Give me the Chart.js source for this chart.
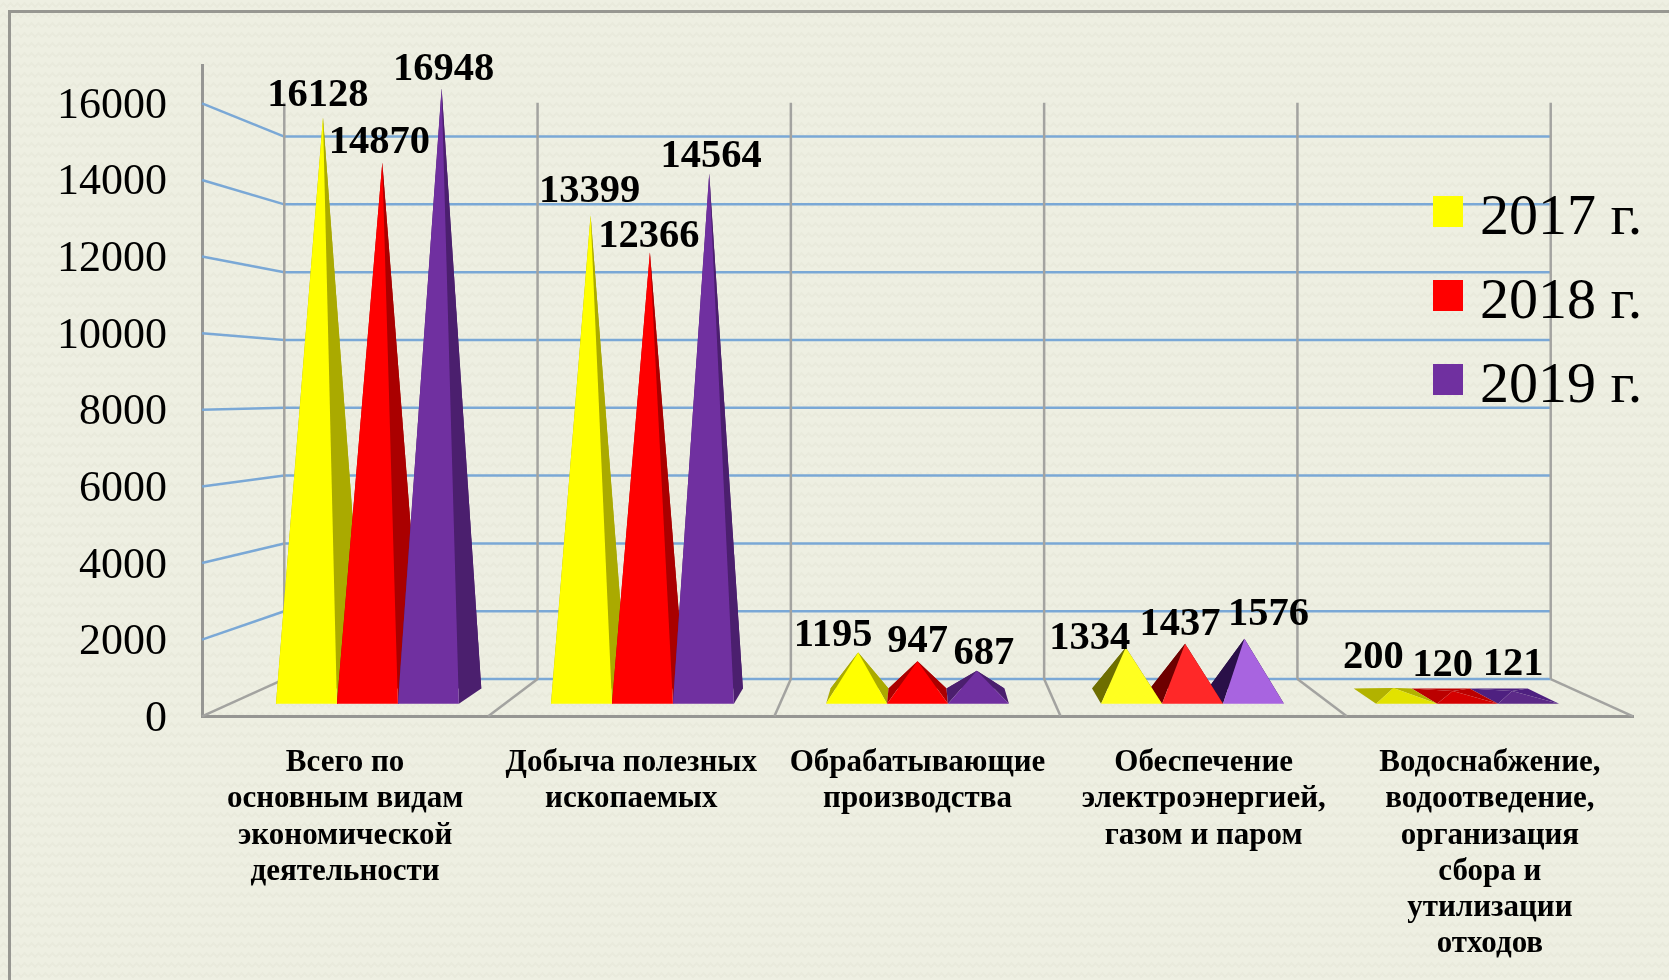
<!DOCTYPE html>
<html lang="ru">
<head>
<meta charset="utf-8">
<title>Chart</title>
<script src="https://cdn.jsdelivr.net/npm/chart.js@4/dist/chart.umd.min.js"></script>
<style>
    html, body { margin: 0; padding: 0; background: #edeee0; }
    #wrap {
        position: relative; width: 1669px; height: 980px; overflow: hidden;
        background-color: #eeefe2;
        background-image: url("data:image/svg+xml,%3Csvg xmlns='http://www.w3.org/2000/svg' width='14' height='10'%3E%3Cpath d='M0 7 L3.5 3 L7 7 L10.5 3 L14 7' fill='none' stroke='%23e9eadc' stroke-width='2'/%3E%3C/svg%3E");
    }
    #frame { position: absolute; left: 8px; top: 10px; width: 1700px; height: 1000px; border: 3px solid #979791; }
    canvas { position: absolute; left: 0; top: 0; }
</style>
</head>
<body>
<div id="wrap">
    <div id="frame"></div>
    <canvas id="chart" width="1669" height="980"></canvas>
</div>
<script>
const categories = [
    ['Всего по', 'основным видам', 'экономической', 'деятельности'],
    ['Добыча полезных', 'ископаемых'],
    ['Обрабатывающие', 'производства'],
    ['Обеспечение', 'электроэнергией,', 'газом и паром'],
    ['Водоснабжение,', 'водоотведение,', 'организация', 'сбора и', 'утилизации', 'отходов']
];
const seriesNames = ['2017 г.', '2018 г.', '2019 г.'];
const values2017 = [16128, 13399, 1195, 1334, 200];
const values2018 = [14870, 12366, 947, 1437, 120];
const values2019 = [16948, 14564, 687, 1576, 121];
const yTickValues = [0, 2000, 4000, 6000, 8000, 10000, 12000, 14000, 16000];

// nudge of each value label from its apex [dx, dy], one row per series
const labelNudge2017 = [[-5, -22], [-1, -24], [-25, -17], [-36, -9], [-20, -31]];
const labelNudge2018 = [[-3, -20], [-1, -16], [0, -20], [-5, -19], [-10, -25]];
const labelNudge2019 = [[2, -19], [2, -17], [7, -17], [24, -24], [1, -26]];

const seriesColors = ['#ffff00', '#ff0000', '#7030a0'];
const sideColors = ['#aaaa00', '#aa0000', '#4b1f6e'];
const litColors = ['#ffff20', '#ff2828', '#a864e0'];
const shadeColors = ['#6e6e00', '#6e0000', '#2a1048'];
const flatColors = ['#e2e200', '#d40000', '#5c2a88'];
const flatBackColors = ['#b2b200', '#bb0000', '#4e2080'];

const GRID_BLUE = '#7aa8d6';
const WALL_GRAY = '#a3a3a0';
const SERIF = '"Liberation Serif", serif';

// perspective of the fake 3D box
const VANISH_Y = 392.3;
const WALL_DEPTH = 0.885;
const BASE_FRONT = 0.961;
const BASE_BACK = 0.914;
const BASE_MID = 0.935;


function project(chart, x, y, depth) {
    const vx = (chart.chartArea.left + chart.chartArea.right) / 2;
    return [vx + depth * (x - vx), VANISH_Y + depth * (y - VANISH_Y)];
}

function line(ctx, a, b, color, width) {
    ctx.strokeStyle = color;
    ctx.lineWidth = width;
    ctx.beginPath();
    ctx.moveTo(a[0], a[1]);
    ctx.lineTo(b[0], b[1]);
    ctx.stroke();
}

function face(ctx, points, color) {
    ctx.fillStyle = color;
    ctx.beginPath();
    points.forEach((p, i) => i ? ctx.lineTo(p[0], p[1]) : ctx.moveTo(p[0], p[1]));
    ctx.closePath();
    ctx.fill();
}


/* ==============================
   BOX WALLS
================================= */

const wallPlugin = {
    id: 'walls',
    beforeDatasetsDraw(chart) {
        const ctx = chart.ctx;
        const yScale = chart.scales.y;
        const area = chart.chartArea;

        ctx.save();

        // blue lines along side and back wall
        yScale.ticks.forEach(tick => {
            const y = yScale.getPixelForValue(tick.value);
            const backLeft = project(chart, area.left, y, WALL_DEPTH);
            const backRight = project(chart, area.right, y, WALL_DEPTH);
            if (tick.value > 0) line(ctx, [area.left, y], backLeft, GRID_BLUE, 2.5);
            line(ctx, backLeft, backRight, GRID_BLUE, 2.5);
        });

        // gray separators on floor and back wall
        const step = (area.right - area.left) / categories.length;
        for (let i = 0; i <= categories.length; i++) {
            const x = area.left + i * step;
            const floor = project(chart, x, area.bottom, WALL_DEPTH);
            const top = project(chart, x, area.top, WALL_DEPTH);
            line(ctx, [x, area.bottom], floor, WALL_GRAY, 2.5);
            line(ctx, floor, top, WALL_GRAY, 2.5);
        }
        ctx.restore();
    }
};


/* ==============================
   PYRAMIDS
================================= */

function pyramidStyle(series, group) {
    if (group === 3) return { front: litColors[series], side: shadeColors[series], back: shadeColors[series] };
    if (group === 4) return { front: flatColors[series], side: flatBackColors[series], back: flatBackColors[series] };
    return { front: seriesColors[series], side: sideColors[series], back: sideColors[series] };
}

function drawPyramid(chart, series, group) {
    const bar = chart.getDatasetMeta(series).data[group];
    const half = bar.width / 2;
    const base = bar.base;
    const style = pyramidStyle(series, group);

    const fl = project(chart, bar.x - half, base, BASE_FRONT);
    const fr = project(chart, bar.x + half, base, BASE_FRONT);
    const bl = project(chart, bar.x - half, base, BASE_BACK);
    const br = project(chart, bar.x + half, base, BASE_BACK);
    const apex = project(chart, bar.x, bar.y, BASE_MID);

    face(chart.ctx, [bl, br, apex], style.back);
    face(chart.ctx, [fl, bl, apex], style.side);
    face(chart.ctx, [fr, br, apex], style.side);
    face(chart.ctx, [fl, fr, apex], style.front);
}

const pyramidPlugin = {
    id: 'pyramids',
    afterDatasetsDraw(chart) {
        const ctx = chart.ctx;
        const center = (chart.chartArea.left + chart.chartArea.right) / 2;
        const nudges = [labelNudge2017, labelNudge2018, labelNudge2019];

        ctx.save();
        categories.forEach((_, group) => {
            // nearer to the middle goes last, so its front face stays on top
            const bar = chart.getDatasetMeta(1).data[group];
            const order = bar.x > center + 10 ? [2, 1, 0] : [0, 1, 2];
            order.forEach(series => drawPyramid(chart, series, group));
        });

        ctx.fillStyle = '#000';
        ctx.font = 'bold 40.5px ' + SERIF;
        ctx.textAlign = 'center';
        ctx.textBaseline = 'middle';
        chart.data.datasets.forEach((dataset, series) => {
            chart.getDatasetMeta(series).data.forEach((bar, group) => {
                const apex = project(chart, bar.x, bar.y, BASE_MID);
                const nudge = nudges[series][group];
                ctx.fillText(String(dataset.data[group]), apex[0] + nudge[0], apex[1] + nudge[1]);
            });
        });
        ctx.restore();
    }
};


/* ==============================
   LEGEND
================================= */

const legendPlugin = {
    id: 'sideLegend',
    afterDraw(chart) {
        const ctx = chart.ctx;
        ctx.save();
        ctx.font = '58px ' + SERIF;
        ctx.textBaseline = 'alphabetic';
        ctx.textAlign = 'left';
        chart.data.datasets.forEach((dataset, i) => {
            const y = 196 + i * 84;
            ctx.fillStyle = seriesColors[i];
            ctx.fillRect(1433, y, 30, 31);
            ctx.fillStyle = '#000';
            ctx.fillText(dataset.label, 1480, y + 38);
        });
        ctx.restore();
    }
};


function buildDatasets() {
    return [values2017, values2018, values2019].map((values, i) => ({
        label: seriesNames[i],
        data: values,
        backgroundColor: 'rgba(0,0,0,0)',
        borderWidth: 0,
        barPercentage: 1,
        categoryPercentage: 0.665
    }));
}

new Chart(document.getElementById('chart'), {
    type: 'bar',
    data: { labels: categories, datasets: buildDatasets() },
    plugins: [wallPlugin, pyramidPlugin, legendPlugin],
    options: {
        responsive: false,
        animation: false,
        layout: { padding: { top: 65, right: 36, left: 0, bottom: 0 } },
        plugins: { legend: { display: false }, tooltip: { enabled: false } },
        scales: {
            x: {
                afterFit: scale => { scale.height = 263.7; },
                grid: { display: false },
                border: { color: '#969693', width: 3 },
                ticks: {
                    color: '#000',
                    autoSkip: false,
                    maxRotation: 0,
                    minRotation: 0,
                    padding: 21,
                    font: { family: SERIF, size: 31, weight: 'bold', lineHeight: 1.165 }
                }
            },
            y: {
                min: 0,
                max: 17000,
                afterFit: scale => { scale.width = 202; },
                afterBuildTicks: scale => { scale.ticks = yTickValues.map(value => ({ value })); },
                grid: { display: false },
                border: { color: '#969693', width: 3 },
                ticks: {
                    color: '#000',
                    padding: 27,
                    labelOffset: 3,
                    callback: value => String(value),
                    font: { family: SERIF, size: 44 }
                }
            }
        }
    }
});
</script>
</body>
</html>
